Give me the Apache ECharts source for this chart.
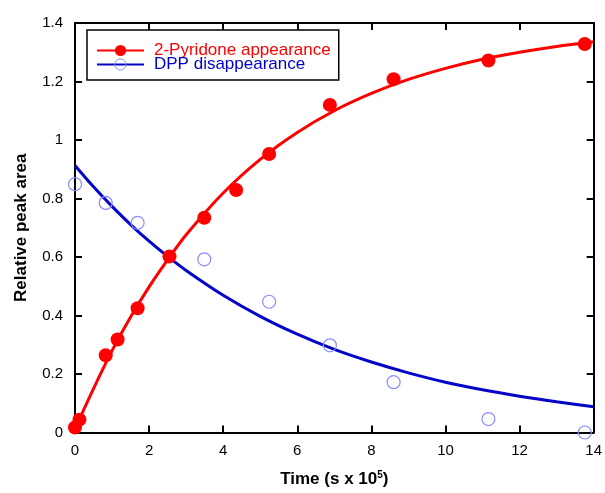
<!DOCTYPE html>
<html>
<head>
<meta charset="utf-8">
<script src="https://cdn.jsdelivr.net/npm/echarts@6/dist/echarts.min.js"></script>
<style>
  html, body { margin: 0; padding: 0; background: #fff; }
  #chart { width: 605px; height: 493px; }
</style>
</head>
<body>
<div id="chart"></div>
<script>
// measured points (time in s x 10^5)
const pyrTime = [0.0, 0.12, 0.83, 1.15, 1.69, 2.55, 3.49, 4.35, 5.24, 6.88, 8.6, 11.16, 13.76];
const pyrArea = [0.017, 0.044, 0.264, 0.318, 0.425, 0.602, 0.734, 0.829, 0.952, 1.12, 1.208, 1.272, 1.328];
const dppTime = [0.0, 0.83, 1.69, 3.49, 5.24, 6.88, 8.6, 11.16, 13.76];
const dppArea = [0.849, 0.785, 0.717, 0.592, 0.447, 0.298, 0.172, 0.046, 0.0];

// fitted curves
const fitTime = [0, 0.5, 1, 1.5, 2, 2.5, 3, 4, 5, 6, 7, 8, 9, 10, 11, 12, 13, 14];
const pyrFit = [0.012, 0.15, 0.28, 0.395, 0.498, 0.59, 0.676, 0.819, 0.934, 1.026, 1.10, 1.159, 1.207, 1.245, 1.276, 1.30, 1.32, 1.336];
const dppFit = [0.913, 0.84, 0.773, 0.711, 0.654, 0.602, 0.554, 0.469, 0.397, 0.336, 0.284, 0.241, 0.204, 0.172, 0.146, 0.124, 0.105, 0.088];

const xTicks = { min: 0, max: 14, interval: 2 };
const yTicks = { min: 0, max: 1.4, interval: 0.2 };

const pair = (xs, ys) => xs.map((x, i) => [x, ys[i]]);

const chart = echarts.init(document.getElementById('chart'), null, { renderer: 'canvas' });

const axisCommon = {
  type: 'value',
  axisLine: { show: true, onZero: false, lineStyle: { color: '#000', width: 2 } },
  axisTick: { show: true, inside: true, length: 7, lineStyle: { color: '#000', width: 2 } },
  splitLine: { show: false }
};

const option = {
  backgroundColor: '#ffffff',
  animation: false,
  textStyle: { fontFamily: 'Liberation Sans, Arial, sans-serif' },
  grid: { left: 75, top: 23, right: 9, bottom: 55, containLabel: false },
  legend: {
    orient: 'vertical',
    left: 87,
    top: 30,
    itemGap: -3,
    itemWidth: 47,
    itemHeight: 14,
    padding: [12, 8, 7, 9],
    borderColor: '#000',
    borderWidth: 1.5,
    backgroundColor: '#fff',
    selectedMode: false,
    textStyle: { fontSize: 17, lineHeight: 14, padding: [0, 0, 0, 5] },
    data: [
      { name: '2-Pyridone appearance', textStyle: { color: '#ff0000' },
        itemStyle: { color: '#ff0000', borderWidth: 0 } },
      { name: 'DPP disappearance', textStyle: { color: '#0000cc' },
        itemStyle: { color: 'rgba(255,255,255,0)', borderColor: '#8a8aff', borderWidth: 1 } }
    ]
  },
  xAxis: [
    Object.assign({}, axisCommon, xTicks, {
      position: 'bottom',
      name: '{t|Time (s x 10}{s|5}{t|)}',
      nameLocation: 'middle',
      nameGap: 38,
      nameTextStyle: {
        rich: {
          t: { fontSize: 17, fontWeight: 'bold', color: '#000' },
          s: { fontSize: 10, fontWeight: 'bold', color: '#000', verticalAlign: 'top', padding: [0, 0, 8, 0] }
        }
      },
      axisLabel: { color: '#000', fontSize: 15, margin: 11 }
    }),
    Object.assign({}, axisCommon, xTicks, {
      position: 'top',
      axisLabel: { show: false }
    })
  ],
  yAxis: [
    Object.assign({}, axisCommon, yTicks, {
      position: 'left',
      name: 'Relative peak area',
      nameLocation: 'middle',
      nameGap: 45,
      nameTextStyle: { fontSize: 17, fontWeight: 'bold', color: '#000' },
      axisLabel: { color: '#000', fontSize: 15, margin: 12 }
    }),
    Object.assign({}, axisCommon, yTicks, {
      position: 'right',
      axisLabel: { show: false }
    })
  ],
  series: [
    {
      name: 'DPP disappearance',
      type: 'line',
      data: pair(fitTime, dppFit),
      smooth: 0.3,
      symbol: 'none',
      lineStyle: { color: '#0505c8', width: 3 },
      itemStyle: { color: '#0505c8' },
      z: 3
    },
    {
      name: 'DPP points',
      type: 'scatter',
      data: pair(dppTime, dppArea),
      symbol: 'circle',
      symbolSize: 13,
      itemStyle: { color: 'rgba(255,255,255,0)', borderColor: '#8a8aff', borderWidth: 1.2, opacity: 1 },
      z: 4
    },
    {
      name: '2-Pyridone appearance',
      type: 'line',
      data: pair(fitTime, pyrFit),
      smooth: 0.3,
      symbol: 'none',
      lineStyle: { color: '#ff0000', width: 3 },
      itemStyle: { color: '#ff0000' },
      z: 5
    },
    {
      name: 'Pyridone points',
      type: 'scatter',
      data: pair(pyrTime, pyrArea),
      symbol: 'circle',
      symbolSize: 14,
      itemStyle: { color: '#ff0000', opacity: 1 },
      z: 6
    }
  ]
};

chart.setOption(option);
</script>
</body>
</html>
